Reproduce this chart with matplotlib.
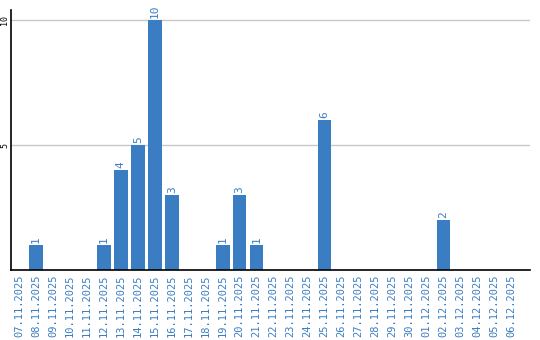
import matplotlib
matplotlib.use("Agg")
import matplotlib.pyplot as plt
import numpy as np

dates = ["07.11.2025","08.11.2025","09.11.2025","10.11.2025","11.11.2025","12.11.2025",
         "13.11.2025","14.11.2025","15.11.2025","16.11.2025","17.11.2025","18.11.2025",
         "19.11.2025","20.11.2025","21.11.2025","22.11.2025","23.11.2025","24.11.2025",
         "25.11.2025","26.11.2025","27.11.2025","28.11.2025","29.11.2025","30.11.2025",
         "01.12.2025","02.12.2025","03.12.2025","04.12.2025","05.12.2025","06.12.2025"]
values = [0,1,0,0,0,1,4,5,10,3,0,0,1,3,1,0,0,0,6,0,0,0,0,0,0,2,0,0,0,0]
yticks = [5, 10]

blue = "#3a7dc3"
fig = plt.figure(figsize=(5.4, 3.4), dpi=100)
ax = fig.add_axes([10.5/540, 70/340, (530-10.5)/540, 260/340])
x = np.arange(len(dates))
ax.bar(x, values, width=0.8, color=blue, zorder=2)
for xi, v in zip(x, values):
    if v > 0:
        ax.text(xi, v + 0.08, str(v), rotation=90, ha="center", va="bottom",
                color=blue, fontsize=8, family="DejaVu Sans Mono")
ax.set_xlim(-0.5, 30.1)
ax.set_ylim(0, 10.4)
ax.set_yticks(yticks)
ax.set_yticklabels([str(t) for t in yticks], rotation=90, fontsize=6,
                   family="DejaVu Sans Mono", va="center", ha="right")
ax.set_xticks(x)
ax.set_xticklabels(dates, rotation=90, fontsize=7.5, family="DejaVu Sans Mono", color=blue)
ax.tick_params(axis="x", length=0, pad=3)
ax.tick_params(axis="y", length=0, pad=1)
ax.grid(axis="y", color="#c8c8c8", linewidth=1, zorder=0)
for s in ["top", "right"]:
    ax.spines[s].set_visible(False)
ax.spines["left"].set_color("black")
ax.spines["bottom"].set_color("black")
ax.spines["left"].set_linewidth(1.2)
ax.spines["bottom"].set_linewidth(1.2)
fig.savefig("out.png", dpi=100)
